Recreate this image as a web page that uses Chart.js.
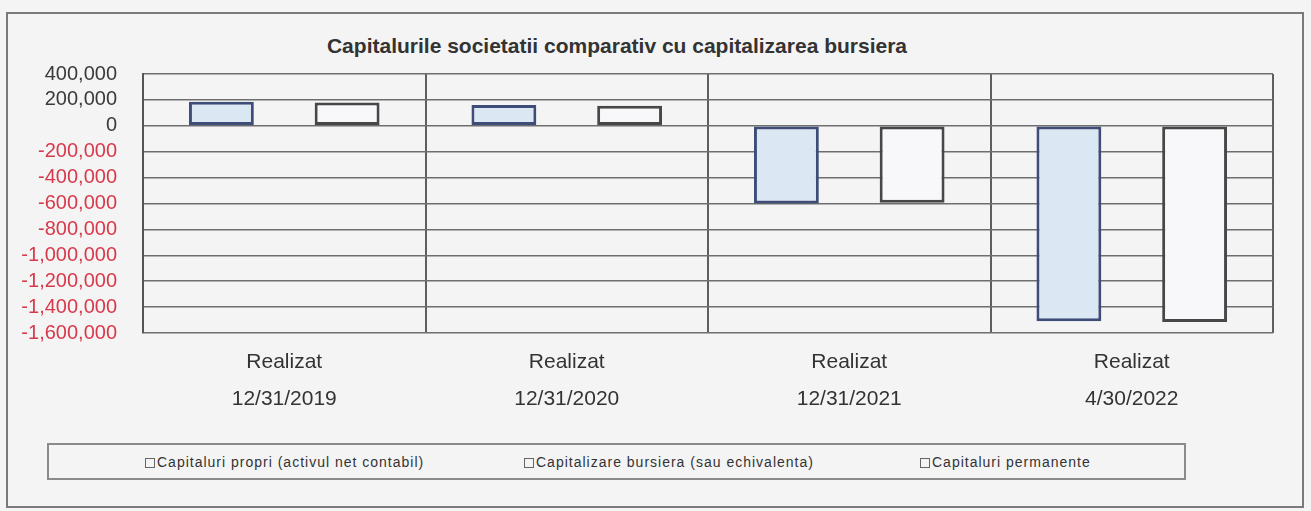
<!DOCTYPE html>
<html>
<head>
<meta charset="utf-8">
<script src="https://cdn.jsdelivr.net/npm/chart.js@4/dist/chart.umd.min.js"></script>
<style>
  body { margin: 0; background: #f4f4f5; font-family: "Liberation Sans", Arial, sans-serif; }
  #frame { position: absolute; left: 6px; top: 12px; width: 1294px; height: 492px; border: 2px solid #7a7a7a; }
  #chartBox { position: absolute; left: 0; top: 0; width: 1311px; height: 440px; }
  #title { position: absolute; top: 34px; left: 317px; width: 600px; text-align: center;
           font-weight: bold; font-size: 21px; color: #333; white-space: nowrap; }
  #legend { position: absolute; left: 47px; top: 443px; width: 1135px; height: 33px; border: 2px solid #8a8a8a; }
  .item { position: absolute; top: 9px; font-size: 14px; letter-spacing: 1px; color: #333; white-space: nowrap; }
  .item i { display: inline-block; width: 8px; height: 8px; border: 1px solid #666; margin-right: 2px; vertical-align: -1px; }
</style>
</head>
<body>
<div id="frame"></div>
<div id="title">Capitalurile societatii comparativ cu capitalizarea bursiera</div>
<div id="chartBox"><canvas id="graph" width="1311" height="440"></canvas></div>
<div id="legend"></div>
<script>
// data
var categories = [['Realizat', '12/31/2019'], ['Realizat', '12/31/2020'], ['Realizat', '12/31/2021'], ['Realizat', '4/30/2022']];
var seriesNames = ['Capitaluri propri (activul net contabil)', 'Capitalizare bursiera (sau echivalenta)', 'Capitaluri permanente'];
var capitaluriProprii = [185000, 160000, -600000, -1510000];
var capitalizareBursiera = [180000, 155000, -595000, -1515000];
var capitaluriPermanente = [null, null, null, null];
var yTicks = [400000, 200000, 0, -200000, -400000, -600000, -800000, -1000000, -1200000, -1400000, -1600000];

var ctx = document.getElementById('graph');
new Chart(ctx, {
    type: 'bar',
    data: {
        labels: categories,
        datasets: [{
            label: seriesNames[0],
            data: capitaluriProprii,
            backgroundColor: '#dce7f4',
            borderColor: '#3e4d78',
            borderWidth: 3,
            borderSkipped: false
        }, {
            label: seriesNames[1],
            data: capitalizareBursiera,
            backgroundColor: '#f8f8fb',
            borderColor: '#474747',
            borderWidth: 3,
            borderSkipped: false
        }, {
            label: seriesNames[2],
            data: capitaluriPermanente,
            backgroundColor: '#ffffff',
            borderColor: '#666',
            borderWidth: 1,
            grouped: false
        }]
    },
    options: {
        responsive: false,
        animation: false,
        layout: { padding: { left: 10, right: 38, top: 74, bottom: 7 } },
        plugins: {
            legend: { display: false },
            tooltip: { enabled: false }
        },
        datasets: {
            bar: { categoryPercentage: 0.89, barPercentage: 0.516 }
        },
        scales: {
            x: {
                grid: { offset: true, color: '#5e5e5e', lineWidth: 2, drawTicks: false },
                border: { display: false },
                ticks: {
                    padding: 10,
                    color: '#333',
                    font: { family: 'Liberation Sans', size: 21, lineHeight: 1.8 },
                    maxRotation: 0
                },
                afterFit: function (scale) { scale.height = 100; }
            },
            y: {
                min: yTicks[yTicks.length - 1],
                max: yTicks[0],
                afterBuildTicks: function (scale) {
                    scale.ticks = yTicks.map(function (v) { return { value: v }; });
                },
                grid: { color: '#6e6e6e', lineWidth: 1.5, drawTicks: false },
                border: { display: true, color: '#555', width: 2 },
                ticks: {
                    autoSkip: false,
                    padding: 26,
                    font: { family: 'Liberation Sans', size: 20 },
                    color: function (c) { return c.tick && c.tick.value < 0 ? '#d8394a' : '#3a3a3a'; },
                    callback: function (v) { return Number(v).toLocaleString('en-US'); }
                },
                afterFit: function (scale) { scale.width = 133; }
            }
        }
    }
});

// legend drawn as html, like the excel legend box
var legendBox = document.getElementById('legend');
var legendLeft = [96, 475, 871];
for (var i = 0; i < seriesNames.length; i++) {
    var item = document.createElement('span');
    item.className = 'item';
    item.style.left = legendLeft[i] + 'px';
    item.innerHTML = '<i></i>';
    item.appendChild(document.createTextNode(seriesNames[i]));
    legendBox.appendChild(item);
}
</script>
</body>
</html>
